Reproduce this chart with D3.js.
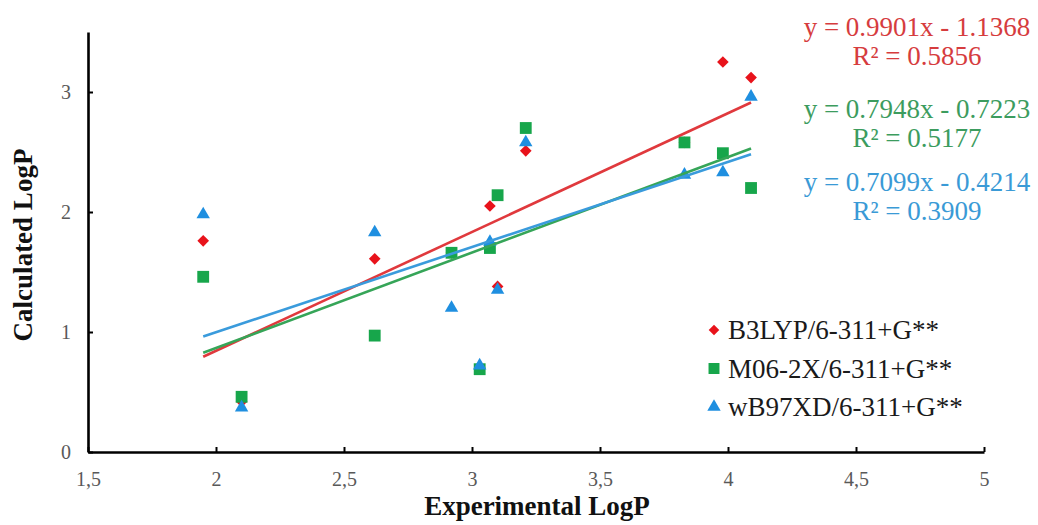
<!DOCTYPE html>
<html>
<head>
<meta charset="utf-8">
<script src="https://cdn.jsdelivr.net/npm/d3@7"></script>
<style>
  html, body { margin: 0; padding: 0; background: #fff; }
  svg { display: block; font-family: "Liberation Serif", "Times New Roman", serif; }
</style>
</head>
<body>
<svg id="chart" width="1038" height="525"></svg>
<script>
// ---- data ----
const expLogP  = [1.95, 2.10, 2.62, 2.92, 3.03, 3.07, 3.10, 3.21, 3.83, 3.98, 4.09];
const b3lyp    = [1.76, 0.42, 1.61, 1.66, 0.70, 2.05, 1.38, 2.51, 2.58, 3.25, 3.12];
const m062x    = [1.46, 0.46, 0.97, 1.66, 0.69, 1.70, 2.14, 2.70, 2.58, 2.49, 2.20];
const wb97xd   = [1.98, 0.37, 1.83, 1.20, 0.72, 1.75, 1.35, 2.58, 2.31, 2.33, 2.96];
const seriesNames = ["B3LYP/6-311+G**", "M06-2X/6-311+G**", "wB97XD/6-311+G**"];
const slopes      = [0.9901, 0.7948, 0.7099];
const intercepts  = [-1.1368, -0.7223, -0.4214];
const eqLabels    = ["y = 0.9901x - 1.1368", "y = 0.7948x - 0.7223", "y = 0.7099x - 0.4214"];
const r2Labels    = ["R² = 0.5856", "R² = 0.5177", "R² = 0.3909"];
const xTicks = [1.5, 2, 2.5, 3, 3.5, 4, 4.5, 5];
const yTicks = [0, 1, 2, 3];

// ---- style ----
const markerColors = ["#e8131b", "#17a64b", "#1f8fe0"];
const lineColors   = ["#e0393d", "#36a558", "#3a9bdc"];
const textColors   = ["#d63c3e", "#3c9c5e", "#3a9ad6"];

const svg = d3.select("#chart");
const x = d3.scaleLinear().domain([1.5, 5]).range([88, 984]);
const y = d3.scaleLinear().domain([0, 3.5]).range([452, 32]);

const values = [b3lyp, m062x, wb97xd];
const symbols = [
  d3.symbol().type(d3.symbolSquare).size(68),   // rotated -> diamond
  d3.symbol().type(d3.symbolSquare).size(140),
  d3.symbol().type(d3.symbolTriangle).size(78)
];
const rot = [45, 0, 0];

// markers
values.forEach((vals, s) => {
  svg.append("g").selectAll("path")
    .data(vals.map((v, i) => [expLogP[i], v]))
    .join("path")
    .attr("d", symbols[s]())
    .attr("fill", markerColors[s])
    .attr("transform", d => `translate(${x(d[0])},${y(d[1])}) rotate(${rot[s]})`);
});

// trendlines
const xmin = d3.min(expLogP), xmax = d3.max(expLogP);
const line = d3.line().x(d => x(d[0])).y(d => y(d[1]));
slopes.forEach((m, s) => {
  const b = intercepts[s];
  svg.append("path")
    .datum([[xmin, m * xmin + b], [xmax, m * xmax + b]])
    .attr("d", line)
    .attr("fill", "none")
    .attr("stroke", lineColors[s])
    .attr("stroke-width", 2.6);
});

// axes
const xAxis = d3.axisBottom(x).tickValues(xTicks).tickSizeInner(-5).tickSizeOuter(0)
  .tickFormat(d => d3.format("")(d).replace(".", ","));
const gx = svg.append("g").attr("transform", `translate(0,${y(0)})`).call(xAxis);
gx.select(".domain").attr("stroke", "#000").attr("stroke-width", 2.6);
gx.selectAll(".tick line").attr("stroke", "#000").attr("stroke-width", 2);
gx.selectAll(".tick text").attr("y", 20).attr("dy", "0.71em")
  .attr("font-size", 20).attr("fill", "#595959")
  .attr("font-family", "Liberation Serif, serif");

const yAxis = d3.axisLeft(y).tickValues(yTicks).tickSizeInner(-5).tickSizeOuter(0)
  .tickFormat(d3.format("d"));
const gy = svg.append("g").attr("transform", `translate(${x(1.5)},0)`).call(yAxis);
gy.select(".domain").attr("stroke", "#000").attr("stroke-width", 2.6);
gy.selectAll(".tick line").attr("stroke", "#000").attr("stroke-width", 2);
gy.selectAll(".tick text").attr("x", -17)
  .attr("font-size", 20).attr("fill", "#595959")
  .attr("font-family", "Liberation Serif, serif");

// axis titles
svg.append("text").attr("x", 537).attr("y", 515).attr("text-anchor", "middle")
  .attr("font-size", 27).attr("font-weight", "bold").attr("fill", "#111")
  .text("Experimental LogP");
svg.append("text").attr("transform", "translate(32,245) rotate(-90)")
  .attr("text-anchor", "middle")
  .attr("font-size", 27).attr("font-weight", "bold").attr("fill", "#111")
  .text("Calculated LogP");

// equations
const eqBase = [36, 118, 191];
eqLabels.forEach((t, s) => {
  svg.append("text").attr("x", 917).attr("y", eqBase[s]).attr("text-anchor", "middle")
    .attr("font-size", 27).attr("fill", textColors[s]).text(t);
  svg.append("text").attr("x", 917).attr("y", eqBase[s] + 29).attr("text-anchor", "middle")
    .attr("font-size", 27).attr("fill", textColors[s]).text(r2Labels[s]);
});

// legend
const legSyms = [
  d3.symbol().type(d3.symbolSquare).size(56),
  d3.symbol().type(d3.symbolSquare).size(120),
  d3.symbol().type(d3.symbolTriangle).size(78)
];
seriesNames.forEach((name, s) => {
  const cy = 330 + s * 38.5;
  svg.append("path").attr("d", legSyms[s]())
    .attr("fill", markerColors[s])
    .attr("transform", `translate(714,${cy}) rotate(${rot[s]})`);
  svg.append("text").attr("x", 728).attr("y", cy + 9)
    .attr("font-size", 27).attr("fill", "#1a1a1a").text(name);
});
</script>
</body>
</html>
